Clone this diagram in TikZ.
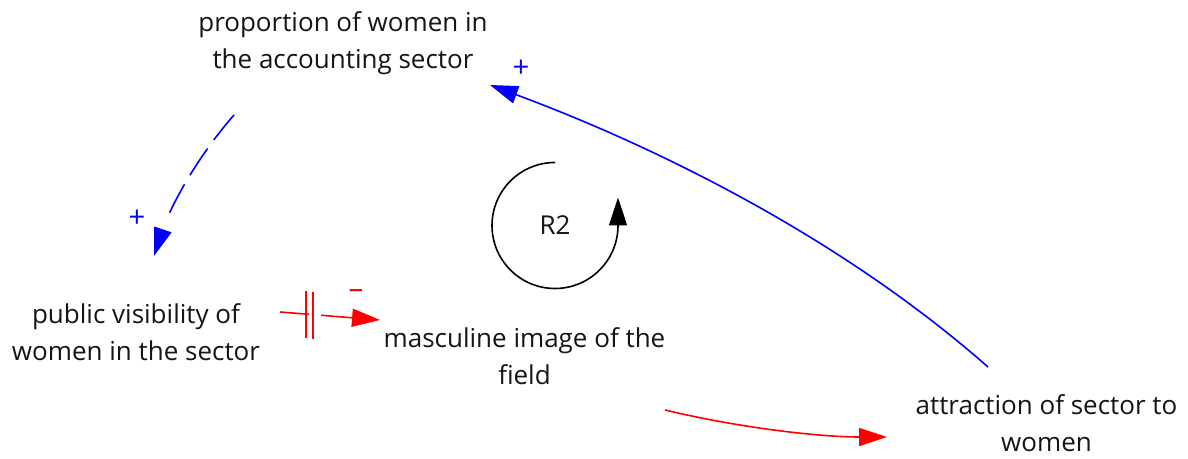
\documentclass[tikz,border=0pt]{standalone}
\usepackage{fontspec}
\setmainfont{Open Sans}
\usetikzlibrary{arrows.meta,calc}
\definecolor{txt}{HTML}{151515}
\definecolor{cblue}{RGB}{0,0,255}
\definecolor{cred}{RGB}{255,0,0}
\begin{document}
\begin{tikzpicture}[x=0.75pt,y=-0.75pt,
  lbl/.style={font=\fontsize{19.5}{27.5}\selectfont, align=center, text=txt, inner sep=0pt},
  tipstyle/.style={-{Triangle[length=21pt,width=13.5pt]}},
  link/.style={line width=1.2pt, tipstyle},
  pol/.style={font=\fontsize{22}{24}\selectfont, inner sep=0pt, anchor=base}]
\useasboundingbox (0,0) rectangle (1188,459);

\node[lbl] (prop) at (343,43.5) {proportion of women in\\the accounting sector};
\node[lbl] (vis) at (136,332.3) {public visibility of\\women in the sector};
\node[lbl] (masc) at (524.5,356.5) {masculine image of the\\field};
\node[lbl] (attr) at (1046.5,423.5) {attraction of sector to\\women};
\node[lbl] (r2) at (555,225.5) {R2};

% blue dashed: proportion -> visibility
\draw[link, cblue, dash pattern=on 24pt off 8pt on 24pt off 8pt on 24pt off 30pt]
  ($(prop.center)+(-109,71.5)$) .. controls ($(prop.center)+(-145,112.5)$) and ($(vis.center)+(35,-127.3)$) .. ($(vis.center)+(18,-76.3)$);
\node[pol, text=cblue] (pl1) at (137,228) {+};

% red delayed: visibility -> masculine
\coordinate (da) at ($(vis.center)+(144,-20.3)$);
\coordinate (db) at ($(masc.center)+(-144.5,-36.5)$);
\draw[cred, line width=1.2pt] (da) -- ($(da)!0.29!(db)$);
\draw[link, cred] ($(da)!0.41!(db)$) -- (db);
\draw[cred, line width=1.2pt] ($($(da)!0.26!(db)$)+(0,-23)$) -- ($($(da)!0.26!(db)$)+(0,24)$);
\draw[cred, line width=1.2pt] ($($(da)!0.33!(db)$)+(0,-23)$) -- ($($(da)!0.33!(db)$)+(0,24)$);
\node[pol, text=cred] (mi) at (356,298.5) {\textendash};

% red: masculine -> attraction
\draw[link, cred] ($(masc.center)+(140.5,53.5)$) .. controls ($(masc.center)+(215.5,71.5)$) and ($(attr.center)+(-226.5,13.5)$) .. ($(attr.center)+(-159.5,13.5)$);

% blue: attraction -> proportion
\draw[link, cblue] ($(attr.center)+(-58.5,-56.5)$) .. controls ($(attr.center)+(-200.5,-181.5)$) and ($(prop.center)+(322,106.5)$) .. ($(prop.center)+(147,41.5)$);
\node[pol, text=cblue] (pl2) at (521,78) {+};

% loop R2
\draw[link, black] ($(r2.center)+(0,-63)$) arc[start angle=270, end angle=0, radius=63] -- ++(0,-28);
\end{tikzpicture}
\end{document}
